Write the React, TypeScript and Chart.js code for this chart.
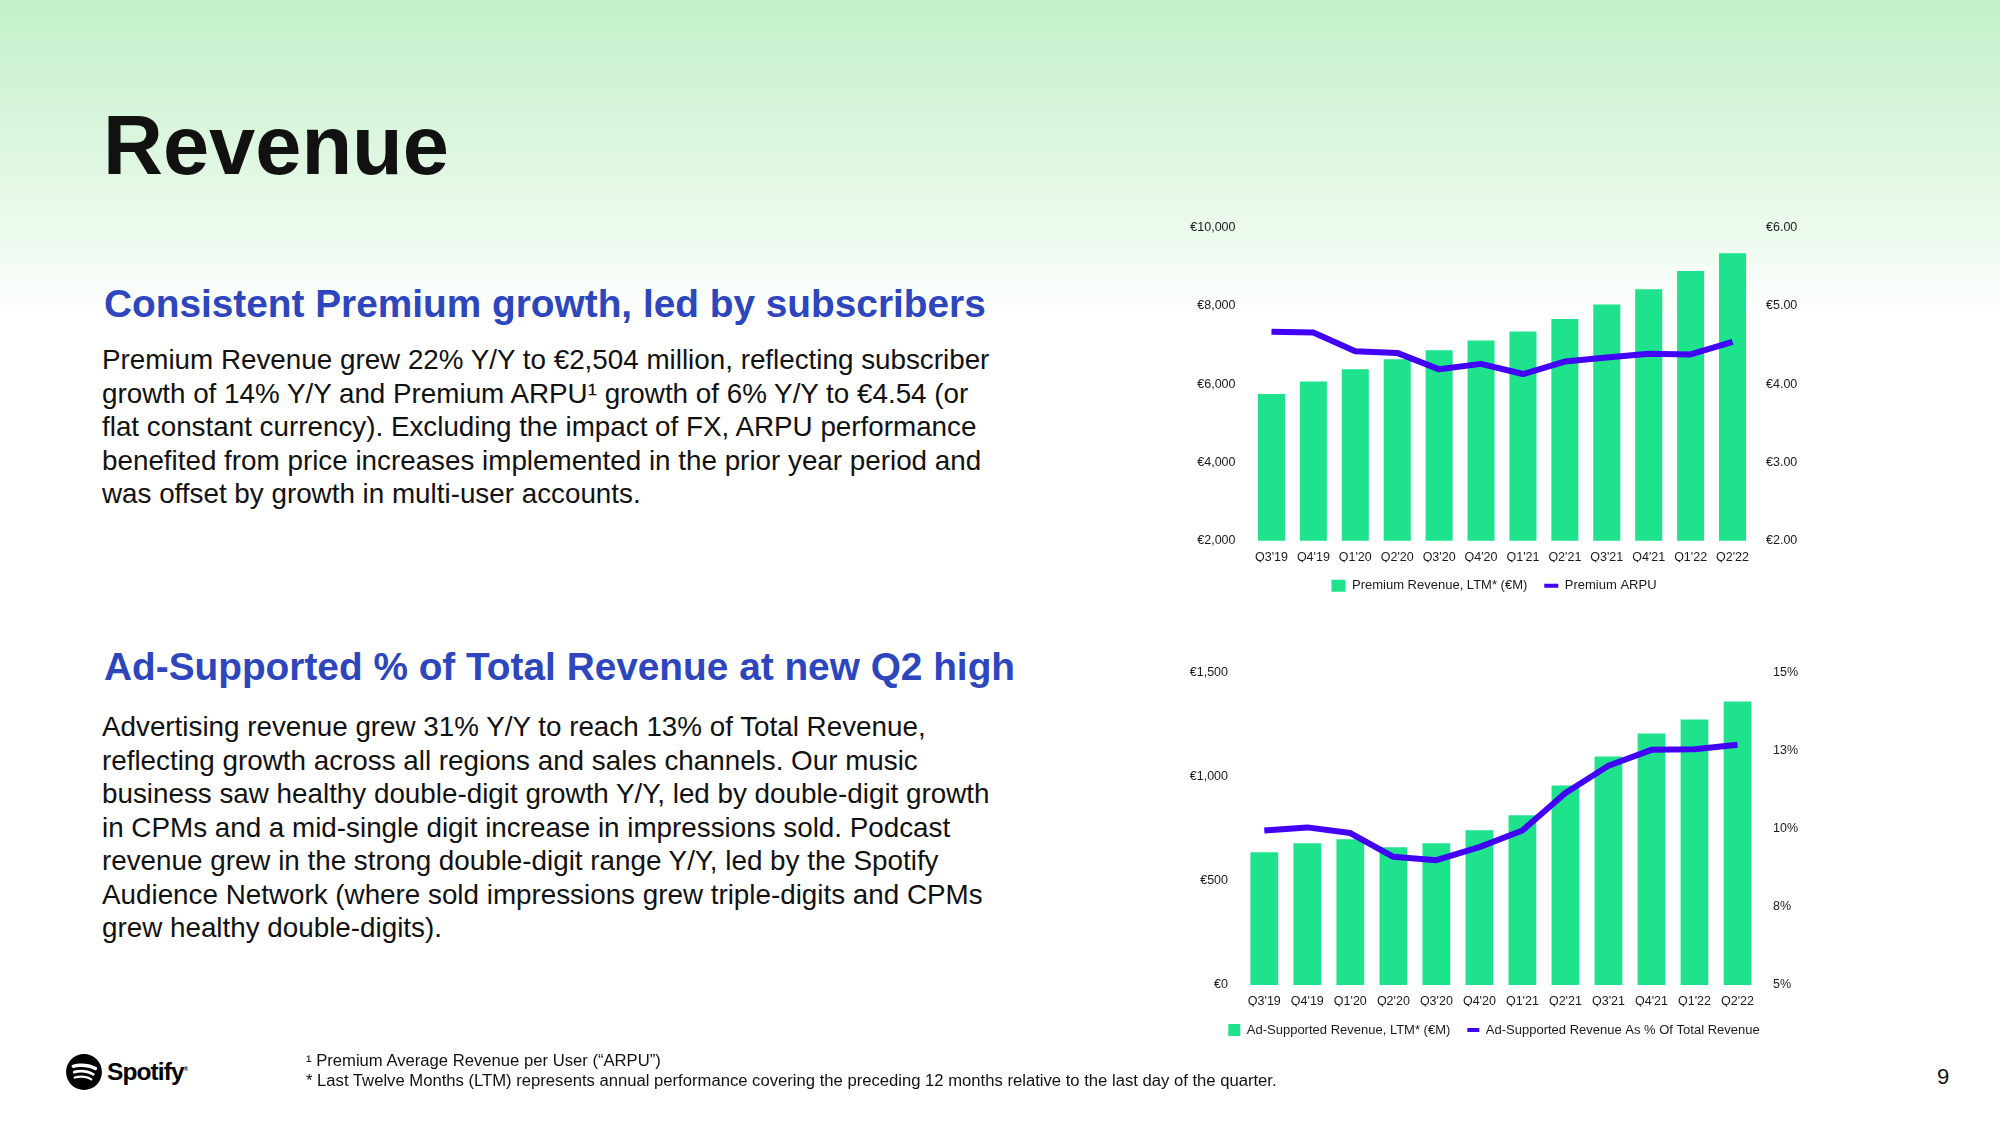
import React, { useEffect, useRef } from "react";
import { Chart, registerables } from "chart.js";

Chart.register(...registerables);

// ---------- data ----------
const quarters = ["Q3'19", "Q4'19", "Q1'20", "Q2'20", "Q3'20", "Q4'20", "Q1'21", "Q2'21", "Q3'21", "Q4'21", "Q1'22", "Q2'22"];
const premiumRevenueLTM = [5750, 6070, 6380, 6635, 6865, 7120, 7350, 7665, 8040, 8430, 8895, 9350];
const premiumARPU = [4.67, 4.66, 4.42, 4.4, 4.19, 4.26, 4.13, 4.29, 4.34, 4.39, 4.38, 4.54];
const adRevenueLTM = [637, 680, 699, 661, 680, 742, 814, 957, 1096, 1206, 1273, 1360];
const adSharePct = [9.94, 10.04, 9.86, 9.1, 8.99, 9.41, 9.94, 11.14, 12.01, 12.52, 12.54, 12.68];

const premiumLeftTicks = { min: 2000, max: 10000, step: 2000 };
const premiumRightTicks = { min: 2, max: 6, step: 1 };
const adLeftTicks = { min: 0, max: 1500, step: 500 };
const adRightTicks = { min: 5, max: 15, step: 2.5 };

const premiumLegend = ["Premium Revenue, LTM* (€M)", "Premium ARPU"];
const adLegend = ["Ad-Supported Revenue, LTM* (€M)", "Ad-Supported Revenue As % Of Total Revenue"];

const body1 = [
  "Premium Revenue grew 22% Y/Y to €2,504 million, reflecting subscriber",
  "growth of 14% Y/Y and Premium ARPU¹ growth of 6% Y/Y to €4.54 (or",
  "flat constant currency). Excluding the impact of FX, ARPU performance",
  "benefited from price increases implemented in the prior year period and",
  "was offset by growth in multi-user accounts.",
];
const body2 = [
  "Advertising revenue grew 31% Y/Y to reach 13% of Total Revenue,",
  "reflecting growth across all regions and sales channels. Our music",
  "business saw healthy double-digit growth Y/Y, led by double-digit growth",
  "in CPMs and a mid-single digit increase in impressions sold. Podcast",
  "revenue grew in the strong double-digit range Y/Y, led by the Spotify",
  "Audience Network (where sold impressions grew triple-digits and CPMs",
  "grew healthy double-digits).",
];

// ---------- style ----------
const FONT = "'Liberation Sans', Arial, Helvetica, sans-serif";
const GREEN = "#1EE28C";
const VIOLET = "#4100F5";
const BLUE = "#2D46BE";
const TEXT = "#1a1a1a";

type AxisSpec = { min: number; max: number; step: number; fmt: (v: number) => string; width: number; pad: number };

const euroInt = (v: number) => "€" + Math.round(v).toLocaleString("en-US");
const euro2 = (v: number) => "€" + v.toFixed(2);
const pct = (v: number) => Math.round(v) + "%";

function buildConfig(o: {
  legend: string[];
  bars: number[];
  line: number[];
  left: AxisSpec;
  right: AxisSpec;
  padTop: number;
  padBottom: number;
  xPad: number;
  xHeight: number;
  boxW: number;
}): any {
  const tickFont = { family: FONT, size: 12.5 };
  return {
    type: "bar",
    data: {
      labels: quarters,
      datasets: [
        {
          type: "bar",
          label: o.legend[0],
          data: o.bars,
          backgroundColor: GREEN,
          borderColor: GREEN,
          borderWidth: 0,
          yAxisID: "yL",
          order: 1,
          categoryPercentage: 1,
          barPercentage: 0.645,
          pointStyle: "rect",
        },
        {
          type: "line",
          label: o.legend[1],
          data: o.line,
          borderColor: VIOLET,
          backgroundColor: VIOLET,
          borderWidth: 6,
          borderJoinStyle: "round",
          pointRadius: 0,
          pointStyle: "line",
          tension: 0,
          yAxisID: "yR",
          order: 0,
        },
      ],
    },
    options: {
      responsive: false,
      animation: false,
      events: [],
      layout: { padding: { top: o.padTop, bottom: o.padBottom, left: 0, right: 0 } },
      plugins: {
        tooltip: { enabled: false },
        legend: {
          position: "bottom",
          labels: {
            usePointStyle: true,
            pointStyleWidth: o.boxW,
            boxHeight: 12,
            padding: 17,
            color: TEXT,
            font: { family: FONT, size: 13 },
            sort: (a: any, b: any) => a.datasetIndex - b.datasetIndex,
            generateLabels: (chart: any) => {
              const items = (Chart.defaults as any).plugins.legend.labels.generateLabels(chart);
              items.forEach((it: any) => {
                if (it.datasetIndex === 1) {
                  it.lineWidth = 4;
                  it.strokeStyle = VIOLET;
                  it.pointStyle = "line";
                } else {
                  it.lineWidth = 0;
                  it.fillStyle = GREEN;
                  it.pointStyle = "rect";
                }
              });
              return items;
            },
          },
        },
      },
      scales: {
        x: {
          grid: { display: false, drawTicks: false },
          border: { display: false },
          ticks: { color: TEXT, font: tickFont, padding: o.xPad, autoSkip: false, maxRotation: 0, minRotation: 0 },
          afterFit: (s: any) => {
            s.height = o.xHeight;
          },
        },
        yL: {
          position: "left",
          min: o.left.min,
          max: o.left.max,
          grid: { display: false, drawTicks: false },
          border: { display: false },
          ticks: { stepSize: o.left.step, color: TEXT, font: tickFont, padding: o.left.pad, callback: (v: any) => o.left.fmt(Number(v)) },
          afterFit: (s: any) => {
            s.width = o.left.width;
          },
        },
        yR: {
          position: "right",
          min: o.right.min,
          max: o.right.max,
          grid: { display: false, drawTicks: false },
          border: { display: false },
          ticks: { stepSize: o.right.step, color: TEXT, font: tickFont, padding: o.right.pad, callback: (v: any) => o.right.fmt(Number(v)) },
          afterFit: (s: any) => {
            s.width = o.right.width;
          },
        },
      },
    },
  };
}

function ChartBox(props: { left: number; top: number; width: number; height: number; config: any }) {
  const ref = useRef<HTMLCanvasElement | null>(null);
  useEffect(() => {
    if (!ref.current) return;
    const chart = new Chart(ref.current, props.config);
    return () => chart.destroy();
  }, []);
  return (
    <canvas
      ref={ref}
      width={props.width}
      height={props.height}
      style={{ position: "absolute", left: props.left, top: props.top, width: props.width, height: props.height }}
    />
  );
}

const premiumConfig = buildConfig({
  legend: premiumLegend,
  bars: premiumRevenueLTM,
  line: premiumARPU,
  left: { ...premiumLeftTicks, fmt: euroInt, width: 100.5, pad: 15 },
  right: { ...premiumRightTicks, fmt: euro2, width: 84.5, pad: 12.5 },
  padTop: 27.7,
  padBottom: 7.8,
  xPad: 9.5,
  xHeight: 21.5,
  boxW: 14,
});

const adConfig = buildConfig({
  legend: adLegend,
  bars: adRevenueLTM,
  line: adSharePct,
  left: { ...adLeftTicks, fmt: euroInt, width: 102.8, pad: 14.8 },
  right: { ...adRightTicks, fmt: pct, width: 89, pad: 14 },
  padTop: 21.7,
  padBottom: 5.5,
  xPad: 9.5,
  xHeight: 21.5,
  boxW: 12,
});

function SpotifyLogo() {
  return (
    <div style={{ position: "absolute", left: 66, top: 1054, height: 36, display: "flex", alignItems: "center" }}>
      <svg width="36" height="36" viewBox="0 0 168 168">
        <path
          fill="#000"
          d="M83.996.277C37.747.277.253 37.77.253 84.019c0 46.251 37.494 83.741 83.743 83.741 46.254 0 83.744-37.49 83.744-83.741 0-46.246-37.49-83.738-83.745-83.738l.001-.004zm38.404 120.78a5.217 5.217 0 01-7.18 1.73c-19.662-12.010-44.414-14.73-73.564-8.07a5.222 5.222 0 01-6.249-3.930 5.213 5.213 0 013.926-6.25c31.9-7.288 59.263-4.15 81.337 9.34 2.46 1.51 3.240 4.72 1.73 7.18zm10.25-22.805c-1.89 3.075-5.91 4.045-8.98 2.155-22.51-13.839-56.823-17.846-83.448-9.764-3.453 1.043-7.1-.903-8.148-4.35a6.538 6.538 0 014.354-8.143c30.413-9.228 68.222-4.758 94.072 11.127 3.07 1.89 4.04 5.91 2.15 8.976v-.001zm.88-23.744c-26.99-16.031-71.52-17.505-97.289-9.684-4.138 1.255-8.514-1.081-9.768-5.219a7.835 7.835 0 015.221-9.771c29.581-8.98 78.756-7.245 109.83 11.202a7.823 7.823 0 012.74 10.733c-2.2 3.722-7.02 4.949-10.73 2.739z"
        />
      </svg>
      <span style={{ marginLeft: 5, fontFamily: FONT, fontWeight: 700, fontSize: 24.5, letterSpacing: -0.9, color: "#000" }}>
        Spotify<sup style={{ fontSize: 6, verticalAlign: "super" }}>®</sup>
      </span>
    </div>
  );
}

function Lines(props: { lines: string[]; top: number }) {
  return (
    <div style={{ position: "absolute", left: 102, top: props.top, fontFamily: FONT, fontSize: 27.8, lineHeight: "33.5px", color: "#111", whiteSpace: "nowrap" }}>
      {props.lines.map((l, i) => (
        <div key={i}>{l}</div>
      ))}
    </div>
  );
}

export default function App() {
  useEffect(() => {
    document.body.style.margin = "0";
  }, []);
  return (
    <div
      style={{
        position: "absolute",
        left: 0,
        top: 0,
        width: 2000,
        height: 1125,
        overflow: "hidden",
        background: "linear-gradient(180deg, #C3F0C9 0px, #D8F5DB 120px, #EDFAEE 235px, #FFFFFF 320px)",
      }}
    >
      <div style={{ position: "absolute", left: 103, top: 104, fontFamily: FONT, fontWeight: 700, fontSize: 83, lineHeight: "83px", color: "#111" }}>
        Revenue
      </div>
      <div style={{ position: "absolute", left: 104, top: 284.5, fontFamily: FONT, fontWeight: 700, fontSize: 38.8, lineHeight: "38.8px", color: BLUE, whiteSpace: "nowrap" }}>
        Consistent Premium growth, led by subscribers
      </div>
      <Lines lines={body1} top={343} />
      <div style={{ position: "absolute", left: 104, top: 647.5, fontFamily: FONT, fontWeight: 700, fontSize: 38.8, lineHeight: "38.8px", color: BLUE, whiteSpace: "nowrap" }}>
        Ad-Supported % of Total Revenue at new Q2 high
      </div>
      <Lines lines={body2} top={710} />

      <ChartBox left={1150} top={200} width={688} height={410} config={premiumConfig} />
      <ChartBox left={1140} top={650} width={708} height={402} config={adConfig} />

      <SpotifyLogo />
      <div style={{ position: "absolute", left: 306, top: 1051, fontFamily: FONT, fontSize: 16.65, lineHeight: "20px", color: "#111", whiteSpace: "nowrap" }}>
        <div>¹ Premium Average Revenue per User (“ARPU”)</div>
        <div>* Last Twelve Months (LTM) represents annual performance covering the preceding 12 months relative to the last day of the quarter.</div>
      </div>
      <div style={{ position: "absolute", left: 1937, top: 1064, fontFamily: FONT, fontSize: 22, lineHeight: "26px", color: "#111" }}>9</div>
    </div>
  );
}
